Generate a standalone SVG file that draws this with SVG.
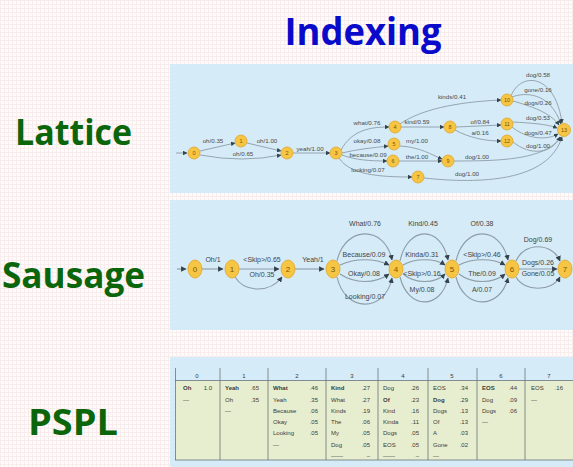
<svg xmlns="http://www.w3.org/2000/svg" width="573" height="467" viewBox="0 0 573 467">
  <defs>
    <pattern id="grid" width="4" height="4" patternUnits="userSpaceOnUse">
      <rect width="4" height="4" fill="#fefbfb"/>
      <path d="M0 0.5H4M0.5 0V4" stroke="#f9ecec" stroke-width="1"/>
    </pattern>
    <marker id="ah" viewBox="0 0 10 10" refX="9" refY="5" markerWidth="4.5" markerHeight="4.5" orient="auto" markerUnits="userSpaceOnUse">
      <path d="M0 0L10 5L0 10z" fill="#34434d"/>
    </marker>
    <marker id="ahs" viewBox="0 0 10 10" refX="9" refY="5" markerWidth="5.5" markerHeight="5.5" orient="auto" markerUnits="userSpaceOnUse">
      <path d="M0 0L10 5L0 10z" fill="#34434d"/>
    </marker>
  </defs>
  <style>
    .title{font-family:"Open Sans","Liberation Sans",sans-serif;font-weight:bold;fill:#0a0acb}
    .side{font-family:"Open Sans","Liberation Sans",sans-serif;font-weight:bold;fill:#0b650b}
    .panel{fill:#d5ebf7}
    .node{fill:#f6c544;stroke:#dfa52a;stroke-width:0.8}
    .nl{font-family:"Liberation Sans",Arial,sans-serif;fill:#7a5608;text-anchor:middle}
    .le{fill:none;stroke:#8d9da7;stroke-width:0.9;marker-end:url(#ah)}
    .se{fill:none;stroke:#8d9da7;stroke-width:1.1;marker-end:url(#ahs)}
    .lt{font-family:"Liberation Sans",Arial,sans-serif;font-size:6.2px;fill:#4a4a4a;text-anchor:middle}
    .st{font-family:"Liberation Sans",Arial,sans-serif;font-size:7px;fill:#444;text-anchor:middle}
    .tw{font-family:"Liberation Sans",Arial,sans-serif;font-size:6px;fill:#3a3a3a}
    .tv{font-family:"Liberation Sans",Arial,sans-serif;font-size:6px;fill:#3a3a3a;text-anchor:end}
    .th{font-family:"Liberation Sans",Arial,sans-serif;font-size:6px;fill:#3a3a3a;text-anchor:middle}
    .b{font-weight:bold}
    .rule{stroke:#6b7379;stroke-width:0.8}
  </style>

  <!-- page background -->
  <rect width="573" height="467" fill="url(#grid)"/>

  <!-- headings -->
  <text class="title" x="363" y="45" font-size="38" text-anchor="middle" textLength="157" lengthAdjust="spacingAndGlyphs">Indexing</text>
  <text class="side" x="15" y="145" font-size="36" textLength="117" lengthAdjust="spacingAndGlyphs">Lattice</text>
  <text class="side" x="2" y="288" font-size="36" textLength="143" lengthAdjust="spacingAndGlyphs">Sausage</text>
  <text class="side" x="28" y="435" font-size="36" textLength="90" lengthAdjust="spacingAndGlyphs">PSPL</text>

  <!-- ===== word lattice ===== -->
  <g id="lattice">
    <rect class="panel" x="170" y="64" width="403" height="129"/>
    <g id="lattice-edges">
      <path class="le" d="M176,153 L187,153"/>
      <path class="le" d="M200,151 L235,143"/>
      <path class="le" d="M247,143 L281,151"/>
      <path class="le" d="M200,155 Q243,163 281,155"/>
      <path class="le" d="M293,153 L330,153"/>
      <path class="le" d="M341,150 C352,130 370,127 389,127"/>
      <path class="le" d="M342,153 C358,149 372,148 388,146"/>
      <path class="le" d="M342,155 C355,160 370,161 387,161"/>
      <path class="le" d="M339,158 C350,175 380,177 412,177"/>
      <path class="le" d="M401,127 L444,127"/>
      <path class="le" d="M400,124 C420,110 455,102 501,100"/>
      <path class="le" d="M400,146 C420,147 432,155 442,159"/>
      <path class="le" d="M399,161 L442,161"/>
      <path class="le" d="M456,127 L501,125"/>
      <path class="le" d="M455,130 C470,138 485,141 501,141"/>
      <path class="le" d="M511,96 C520,72 555,72 562,123"/>
      <path class="le" d="M512,97 C525,92 550,92 561,124"/>
      <path class="le" d="M513,101 C530,106 550,112 559,125"/>
      <path class="le" d="M513,122 C530,123 548,124 557,128"/>
      <path class="le" d="M512,127 C528,140 548,140 558,134"/>
      <path class="le" d="M513,142 C530,156 552,154 560,137"/>
      <path class="le" d="M454,161 C500,161 545,160 561,137"/>
      <path class="le" d="M424,178 C480,184 548,182 562,137"/>
    </g>
    <g id="lattice-labels">
      <text class="lt" x="213" y="143">oh/0.35</text>
      <text class="lt" x="267" y="143">oh/1.00</text>
      <text class="lt" x="243" y="155.5">oh/0.65</text>
      <text class="lt" x="310" y="151">yeah/1.00</text>
      <text class="lt" x="367" y="125">what/0.76</text>
      <text class="lt" x="367" y="143">okay/0.08</text>
      <text class="lt" x="368" y="157">because/0.09</text>
      <text class="lt" x="368" y="172">looking/0.07</text>
      <text class="lt" x="417" y="124">kind/0.59</text>
      <text class="lt" x="452" y="99">kinds/0.41</text>
      <text class="lt" x="417" y="143">my/1.00</text>
      <text class="lt" x="417" y="159">the/1.00</text>
      <text class="lt" x="480" y="123.5">of/0.84</text>
      <text class="lt" x="480" y="135">a/0.16</text>
      <text class="lt" x="538" y="77">dog/0.58</text>
      <text class="lt" x="538" y="92">gone/0.16</text>
      <text class="lt" x="538" y="104.5">dogs/0.26</text>
      <text class="lt" x="538" y="120">dog/0.53</text>
      <text class="lt" x="538" y="134.5">dogs/0.47</text>
      <text class="lt" x="538" y="148">dog/1.00</text>
      <text class="lt" x="477" y="158.5">dog/1.00</text>
      <text class="lt" x="467" y="176">dog/1.00</text>
    </g>
    <g id="lattice-nodes" font-size="5.5">
      <g id="l0"><circle class="node" cx="194" cy="153" r="6"/><text class="nl" x="194" y="155">0</text></g>
      <g id="l1"><circle class="node" cx="241" cy="141" r="6"/><text class="nl" x="241" y="143">1</text></g>
      <g id="l2"><circle class="node" cx="287" cy="153" r="6"/><text class="nl" x="287" y="155">2</text></g>
      <g id="l3"><circle class="node" cx="336" cy="153" r="6"/><text class="nl" x="336" y="155">3</text></g>
      <g id="l4"><circle class="node" cx="395" cy="127" r="6"/><text class="nl" x="395" y="129">4</text></g>
      <g id="l5"><circle class="node" cx="394" cy="144" r="6"/><text class="nl" x="394" y="146">5</text></g>
      <g id="l6"><circle class="node" cx="393" cy="161" r="6"/><text class="nl" x="393" y="163">6</text></g>
      <g id="l7"><circle class="node" cx="418" cy="177" r="6"/><text class="nl" x="418" y="179">7</text></g>
      <g id="l8"><circle class="node" cx="450" cy="127" r="6"/><text class="nl" x="450" y="129">8</text></g>
      <g id="l9"><circle class="node" cx="448" cy="161" r="6"/><text class="nl" x="448" y="163">9</text></g>
      <g id="l10"><circle class="node" cx="507" cy="100" r="6"/><text class="nl" x="507" y="102">10</text></g>
      <g id="l11"><circle class="node" cx="507" cy="124" r="6"/><text class="nl" x="507" y="126">11</text></g>
      <g id="l12"><circle class="node" cx="507" cy="141" r="6"/><text class="nl" x="507" y="143">12</text></g>
      <g id="l13"><circle class="node" cx="564" cy="130" r="6.5"/><text class="nl" x="564" y="132">13</text></g>
    </g>
  </g>

  <!-- ===== confusion network (sausage) ===== -->
  <g id="sausage">
    <rect class="panel" x="170" y="200" width="403" height="130"/>
    <g id="sausage-edges">
      <path class="se" d="M177,269 L186,269"/>
      <path class="se" d="M202,269 L223,269"/>
      <path class="se" d="M239,269 L279,269"/>
      <path class="se" d="M235,277 C245,293 270,293 282,277"/>
      <path class="se" d="M295,269 L324,269"/>
      <!-- slot 3-4 -->
      <path class="se" d="M337,261 C345,225 385,225 392,260"/>
      <path class="se" d="M340,265 C355,258 375,258 389,265"/>
      <path class="se" d="M340,274 C355,284 375,284 389,274"/>
      <path class="se" d="M337,277 C345,313 385,313 392,278"/>
      <!-- slot 4-5 -->
      <path class="se" d="M400,261 C408,225 441,225 448,260"/>
      <path class="se" d="M403,265 C415,258 435,258 445,265"/>
      <path class="se" d="M403,274 C415,284 435,284 445,274"/>
      <path class="se" d="M400,277 C408,310 441,310 448,278"/>
      <!-- slot 5-6 -->
      <path class="se" d="M456,261 C464,225 500,225 508,260"/>
      <path class="se" d="M459,265 C472,258 493,258 505,265"/>
      <path class="se" d="M459,274 C472,284 493,284 505,274"/>
      <path class="se" d="M456,277 C464,310 500,310 508,278"/>
      <!-- slot 6-7 -->
      <path class="se" d="M516,261 C524,242 552,242 560,261"/>
      <path class="se" d="M519,269 L557,269"/>
      <path class="se" d="M516,277 C524,292 552,292 560,277"/>
    </g>
    <g id="sausage-labels">
      <text class="st" x="213" y="262">Oh/1</text>
      <text class="st" x="262" y="262">&lt;Skip&gt;/0.65</text>
      <text class="st" x="262" y="277">Oh/0.35</text>
      <text class="st" x="313" y="262">Yeah/1</text>
      <text class="st" x="365" y="226">What/0.76</text>
      <text class="st" x="364" y="256.5">Because/0.09</text>
      <text class="st" x="364" y="275.5">Okay/0.08</text>
      <text class="st" x="365" y="299">Looking/0.07</text>
      <text class="st" x="423" y="226">Kind/0.45</text>
      <text class="st" x="422" y="256.5">Kinda/0.31</text>
      <text class="st" x="422" y="275.5">&lt;Skip&gt;/0.16</text>
      <text class="st" x="422" y="292">My/0.08</text>
      <text class="st" x="482" y="226">Of/0.38</text>
      <text class="st" x="482" y="256.5">&lt;Skip&gt;/0.46</text>
      <text class="st" x="482" y="275.5">The/0.09</text>
      <text class="st" x="482" y="292">A/0.07</text>
      <text class="st" x="538" y="241.5">Dog/0.69</text>
      <text class="st" x="538" y="264.5">Dogs/0.26</text>
      <text class="st" x="538" y="275.5">Gone/0.05</text>
    </g>
    <g id="sausage-nodes" font-size="8">
      <g id="s0"><ellipse class="node" cx="195" cy="269" rx="7" ry="9"/><text class="nl" x="195" y="272">0</text></g>
      <g id="s1"><ellipse class="node" cx="232" cy="269" rx="7" ry="9"/><text class="nl" x="232" y="272">1</text></g>
      <g id="s2"><ellipse class="node" cx="288" cy="269" rx="7" ry="9"/><text class="nl" x="288" y="272">2</text></g>
      <g id="s3"><ellipse class="node" cx="333" cy="269" rx="7" ry="9"/><text class="nl" x="333" y="272">3</text></g>
      <g id="s4"><ellipse class="node" cx="396" cy="269" rx="7" ry="9"/><text class="nl" x="396" y="272">4</text></g>
      <g id="s5"><ellipse class="node" cx="452" cy="269" rx="7" ry="9"/><text class="nl" x="452" y="272">5</text></g>
      <g id="s6"><ellipse class="node" cx="512" cy="269" rx="7" ry="9"/><text class="nl" x="512" y="272">6</text></g>
      <g id="s7"><ellipse class="node" cx="565" cy="269" rx="7" ry="9"/><text class="nl" x="565" y="272">7</text></g>
    </g>
  </g>

  <!-- ===== position-specific posting lists ===== -->
  <g id="pspl">
    <rect class="panel" x="170" y="357" width="403" height="110"/>
    <rect x="175" y="381" width="398" height="79" fill="#e7eecf"/>
    <g id="pspl-rules">
      <line class="rule" x1="175" y1="380.5" x2="573" y2="380.5" stroke-width="1.2"/>
      <line class="rule" x1="175" y1="460" x2="573" y2="460"/>
      <line class="rule" x1="175.5" y1="368" x2="175.5" y2="460"/>
      <line class="rule" x1="220" y1="368" x2="220" y2="460"/>
      <line class="rule" x1="268" y1="368" x2="268" y2="460"/>
      <line class="rule" x1="326" y1="368" x2="326" y2="460"/>
      <line class="rule" x1="378" y1="368" x2="378" y2="460"/>
      <line class="rule" x1="428" y1="368" x2="428" y2="460"/>
      <line class="rule" x1="477" y1="368" x2="477" y2="460"/>
      <line class="rule" x1="525" y1="368" x2="525" y2="460"/>
    </g>
    <g id="pspl-header">
      <text class="th" x="197" y="378">0</text>
      <text class="th" x="244" y="378">1</text>
      <text class="th" x="297" y="378">2</text>
      <text class="th" x="352" y="378">3</text>
      <text class="th" x="403" y="378">4</text>
      <text class="th" x="452" y="378">5</text>
      <text class="th" x="501" y="378">6</text>
      <text class="th" x="549" y="378">7</text>
    </g>
    <g id="col0">
      <text class="tw b" x="183" y="390">Oh</text><text class="tv" x="212" y="390">1.0</text>
      <text class="tw" x="183" y="401.5">—</text>
    </g>
    <g id="col1">
      <text class="tw b" x="225" y="390">Yeah</text><text class="tv" x="259" y="390">.65</text>
      <text class="tw" x="225" y="401.5">Oh</text><text class="tv" x="259" y="401.5">.35</text>
      <text class="tw" x="225" y="413">—</text>
    </g>
    <g id="col2">
      <text class="tw b" x="273" y="390">What</text><text class="tv" x="318" y="390">.46</text>
      <text class="tw" x="273" y="401.5">Yeah</text><text class="tv" x="318" y="401.5">.35</text>
      <text class="tw" x="273" y="413">Because</text><text class="tv" x="318" y="413">.06</text>
      <text class="tw" x="273" y="424">Okay</text><text class="tv" x="318" y="424">.05</text>
      <text class="tw" x="273" y="435">Looking</text><text class="tv" x="318" y="435">.05</text>
      <text class="tw" x="273" y="446.5">—</text>
    </g>
    <g id="col3">
      <text class="tw b" x="331" y="390">Kind</text><text class="tv" x="370" y="390">.27</text>
      <text class="tw" x="331" y="401.5">What</text><text class="tv" x="370" y="401.5">.27</text>
      <text class="tw" x="331" y="413">Kinds</text><text class="tv" x="370" y="413">.19</text>
      <text class="tw" x="331" y="424">The</text><text class="tv" x="370" y="424">.06</text>
      <text class="tw" x="331" y="435">My</text><text class="tv" x="370" y="435">.05</text>
      <text class="tw" x="331" y="446.5">Dog</text><text class="tv" x="370" y="446.5">.05</text>
      <text class="tw" x="331" y="458">——</text><text class="tv" x="370" y="458">–</text>
    </g>
    <g id="col4">
      <text class="tw" x="383" y="390">Dog</text><text class="tv" x="419" y="390">.26</text>
      <text class="tw b" x="383" y="401.5">Of</text><text class="tv" x="419" y="401.5">.23</text>
      <text class="tw" x="383" y="413">Kind</text><text class="tv" x="419" y="413">.16</text>
      <text class="tw" x="383" y="424">Kinda</text><text class="tv" x="419" y="424">.11</text>
      <text class="tw" x="383" y="435">Dogs</text><text class="tv" x="419" y="435">.05</text>
      <text class="tw" x="383" y="446.5">EOS</text><text class="tv" x="419" y="446.5">.05</text>
      <text class="tw" x="383" y="458">——</text><text class="tv" x="419" y="458">–</text>
    </g>
    <g id="col5">
      <text class="tw" x="433" y="390">EOS</text><text class="tv" x="468" y="390">.34</text>
      <text class="tw b" x="433" y="401.5">Dog</text><text class="tv" x="468" y="401.5">.29</text>
      <text class="tw" x="433" y="413">Dogs</text><text class="tv" x="468" y="413">.13</text>
      <text class="tw" x="433" y="424">Of</text><text class="tv" x="468" y="424">.13</text>
      <text class="tw" x="433" y="435">A</text><text class="tv" x="468" y="435">.03</text>
      <text class="tw" x="433" y="446.5">Gone</text><text class="tv" x="468" y="446.5">.02</text>
      <text class="tw" x="433" y="458">—</text>
    </g>
    <g id="col6">
      <text class="tw b" x="482" y="390">EOS</text><text class="tv" x="517" y="390">.44</text>
      <text class="tw" x="482" y="401.5">Dog</text><text class="tv" x="517" y="401.5">.09</text>
      <text class="tw" x="482" y="413">Dogs</text><text class="tv" x="517" y="413">.06</text>
      <text class="tw" x="482" y="424">—</text>
    </g>
    <g id="col7">
      <text class="tw" x="531" y="390">EOS</text><text class="tv" x="563" y="390">.16</text>
      <text class="tw" x="531" y="401.5">—</text>
    </g>
  </g>
</svg>
